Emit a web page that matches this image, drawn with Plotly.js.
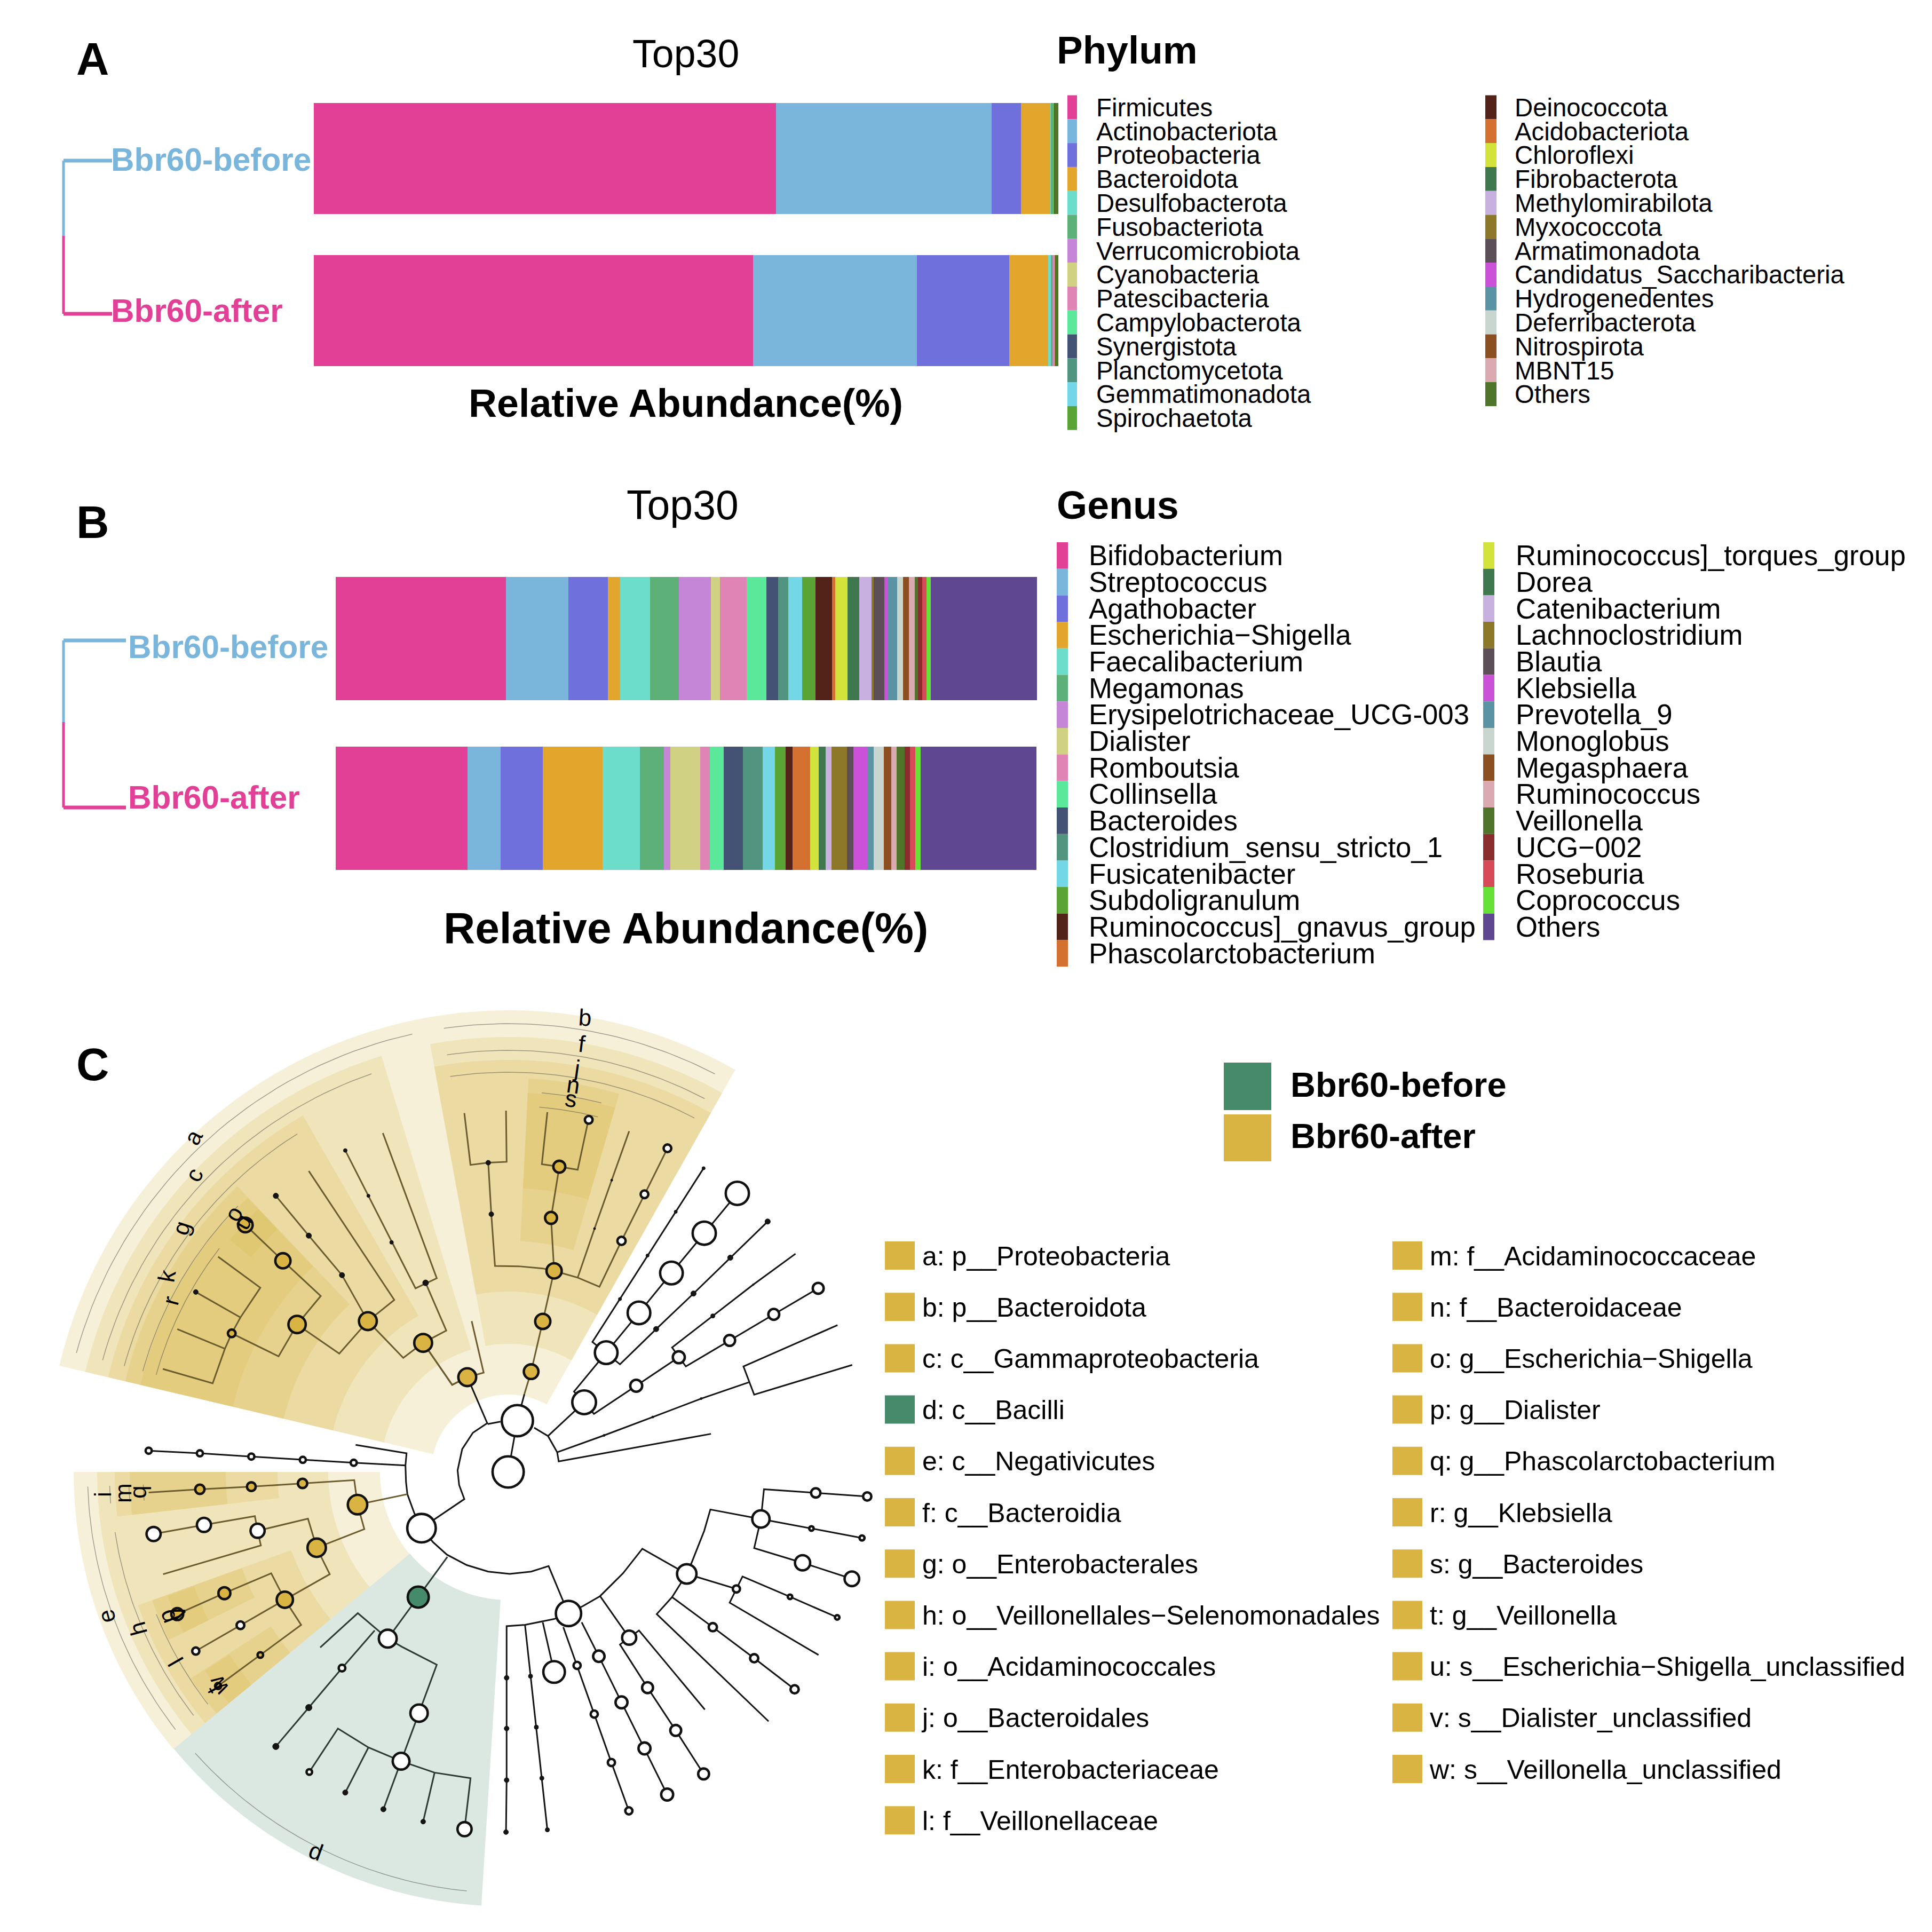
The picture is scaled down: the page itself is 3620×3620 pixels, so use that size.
<!DOCTYPE html>
<html><head><meta charset="utf-8">
<script src="https://cdn.plot.ly/plotly-3.0.1.min.js"></script>
<style>html,body{margin:0;padding:0;background:#fff}</style></head>
<body><div id="chart" style="width:3620px;height:3620px"></div>
<script>
// ---------- Data: stacked bars ----------
const samples = ['Bbr60-before', 'Bbr60-after'];
const phylumNames = ['Firmicutes','Actinobacteriota','Proteobacteria','Bacteroidota','Desulfobacterota','Fusobacteriota','Verrucomicrobiota','Cyanobacteria','Patescibacteria','Campylobacterota','Synergistota','Planctomycetota','Gemmatimonadota','Spirochaetota','Deinococcota','Acidobacteriota','Chloroflexi','Fibrobacterota','Methylomirabilota','Myxococcota','Armatimonadota','Candidatus_Saccharibacteria','Hydrogenedentes','Deferribacterota','Nitrospirota','MBNT15','Others'];
const phylumBefore = [62.08,28.96,3.94,3.94,0.07,0.30,0.03,0.01,0.01,0.02,0.01,0.01,0.01,0.01,0.01,0.01,0.01,0.01,0.01,0.01,0.01,0.01,0.01,0.01,0.01,0.01,0.50];
const phylumAfter  = [59.00,22.00,12.40,5.23,0.36,0.22,0.14,0.02,0.03,0.02,0.03,0.01,0.01,0.01,0.01,0.01,0.01,0.01,0.01,0.01,0.01,0.01,0.01,0.01,0.01,0.01,0.50];
const genusNames = ['Bifidobacterium','Streptococcus','Agathobacter','Escherichia\u2212Shigella','Faecalibacterium','Megamonas','Erysipelotrichaceae_UCG-003','Dialister','Romboutsia','Collinsella','Bacteroides','Clostridium_sensu_stricto_1','Fusicatenibacter','Subdoligranulum','Ruminococcus]_gnavus_group','Phascolarctobacterium','Ruminococcus]_torques_group','Dorea','Catenibacterium','Lachnoclostridium','Blautia','Klebsiella','Prevotella_9','Monoglobus','Megasphaera','Ruminococcus','Veillonella','UCG\u2212002','Roseburia','Coprococcus','Others'];
const genusBefore = [24.28,8.90,5.63,1.75,4.26,4.11,4.57,1.29,3.81,2.82,1.67,1.45,1.98,1.90,2.36,0.46,1.75,1.67,1.75,0.30,1.52,0.46,1.37,0.84,0.84,0.84,0.46,0.61,0.61,0.61,15.14];
const genusAfter  = [18.80,4.68,6.02,8.54,5.34,3.39,0.94,4.30,1.33,1.98,2.71,2.85,1.77,1.54,0.93,2.56,1.16,1.05,0.84,2.18,0.93,1.98,0.88,1.45,1.10,0.73,1.13,0.81,0.76,0.70,16.54];
const palette = ['#E24097','#7AB5DB','#7070DD','#E3A62D','#6CDDCA','#5DB077','#C686D8','#D1D183','#E084B5','#5BE89A','#445276','#519581','#73D7E8','#5AA435','#53231A','#D47030','#D4E33B','#3F774E','#C8B0E0','#8D7829','#5C4F57','#CB52D8','#5A93A3','#C9D6CF','#8B4F22','#DBAAB0','#4E7529','#8B2C2F','#D84A57','#66E236','#5F4792'];
const phylumColors = palette.slice(0,26).concat(['#4E7529']);
const blue = '#7AB5DB', pink = '#E24097';
const gold = '#D9B443', green = '#468B69', brown = '#6B5C2F', ink = '#151515', inkD = '#2C3A33';

// ---------- Data: cladogram legend ----------
const cladeLegendA = ['a: p__Proteobacteria','b: p__Bacteroidota','c: c__Gammaproteobacteria','d: c__Bacilli','e: c__Negativicutes','f: c__Bacteroidia','g: o__Enterobacterales','h: o__Veillonellales\u2212Selenomonadales','i: o__Acidaminococcales','j: o__Bacteroidales','k: f__Enterobacteriaceae','l: f__Veillonellaceae'];
const cladeLegendB = ['m: f__Acidaminococcaceae','n: f__Bacteroidaceae','o: g__Escherichia\u2212Shigella','p: g__Dialister','q: g__Phascolarctobacterium','r: g__Klebsiella','s: g__Bacteroides','t: g__Veillonella','u: s__Escherichia\u2212Shigella_unclassified','v: s__Dialister_unclassified','w: s__Veillonella_unclassified'];

// ---------- Data: clade sectors [angle from, angle to, inner radius, outer radius, group] ----------
const cx0 = 953, cy0 = 2758;
const sectors = [
 [100.2,166.7,145,865,'g'],[60.6,100.2,145,865,'g'],
 [107,166.7,240,815,'g'],[60.6,100.4,240,815,'g'],[180,219.6,241,815,'g'],[219.6,266.4,240,814,'d'],
 [120,166.7,338,771,'g'],[60.6,100.4,338,772,'g'],[186.5,219.6,338,771,'g'],[180,186.5,338,771,'g'],
 [133.5,166.7,433,738,'g'],[73.7,87.1,433,738,'g'],[180,186.5,433,738,'g'],[199.8,219.6,433,738,'g'],
 [140.2,166.7,531,709,'g'],[133.6,140.2,531,709,'g'],[73.7,87.1,532,711,'g'],[180,186.5,530,710,'g'],[199.8,206.3,531,710,'g'],[213,219.6,531,710,'g'],
 [133.6,140.2,628,680,'g'],[200,206.3,627,680,'g'],[213.2,219.6,625,680,'g']
];
// annotation arcs [angle from, angle to, radius]
const arcs = [[102.4,164.6,840],[109,164.6,789],[122,164.6,747],[135.5,164.6,711],[142.3,164.6,685],
 [62.6,98.3,840],[62.3,98.4,790],[62.3,98.4,749],[75.9,85,713],[75.9,85.2,686],
 [182,217.7,789],[188.7,217.7,746],[202,217.7,712],[182,184.5,748],[182,184.5,712],[182,184.5,685],[221.9,264.3,789]];
// clade letters [text, x, y, rotation]
const letters = [['a',361,2131,-62],['c',363,2201,-65],['g',339,2301,-72],['k',312,2391,-80],['r',319,2437,-75],['o',437,2274,-60],['u',454,2289,-60],
 ['b',1096,1906,4],['f',1090,1955,7],['j',1081,2001,8],['n',1074,2032,8],['s',1070,2058,8],
 ['i',192,2800,-90],['m',230,2798,-90],['q',258,2796,-90],['e',199,3029,-105],['h',258,3052,-105],['p',312,3030,-110],['v',332,3024,-110],['l',329,3114,-120],['t',401,3165,-120],['w',409,3159,-120],['d',592,3468,20]];

const views = {a:[100,1860,1.96,1.742], b:[800,1860,1.742,1.742], c:[100,2660,1.96,1.633], d:[800,2660,1.742,1.633]};
const branches = [
 ['a',brown,[1210,458,1408,932,1330,965,1072,515]],['a',brown,[1367,947,1443,1103,1358,1143,1285,1192,1155,1072]],
 ['a',brown,[1155,1072,1252,1003,938,582]],['a',brown,[1155,1072,1060,922,938,793,817,663]],['a',brown,[1155,1072,1050,1178,895,1083]],
 ['a',brown,[895,1083,982,990,843,875,705,758]],['a',brown,[895,1083,827,1187,655,1112]],
 ['a',brown,[605,862,760,963,687,1060,655,1112,630,1162,585,1275,402,1228]],['a',brown,[687,1060,523,977]],['a',brown,[630,1162,455,1098]],
 ['a',brown,[1358,1143,1465,1280,1520,1255]],
 ['b',brown,[146,1072,185,1240,132,1255]],['b',ink,[132,1255,198,1408]],
 ['b',ink,[295,1397,318,1310]],['b',brown,[318,1310,340,1237,378,1073,415,908,405,735,432,568]],
 ['b',brown,[122,393,142,562,200,555,260,552,258,385]],
 ['b',brown,[200,555,210,723,222,892,300,893,378,900,415,908,492,930,563,960,635,810,710,658,785,508]],
 ['b',brown,[492,930,547,770,603,612,660,452]],['b',brown,[393,390,375,560,432,568,492,578,527,415]],
 ['b',ink,[198,1408,240,1400]],['b',ink,[350,1420,395,1447,425,1500,430,1530,927,1440]],
 ['b',ink,[425,1500,578,1445,737,1385,895,1325,1050,1272]],['b',ink,[1340,1085,1033,1220,1068,1312,1388,1215]],
 ['b',ink,[395,1447,513,1337,480,1302,585,1175,692,1045,798,915,905,785,1013,655]],
 ['b',ink,[903,573,540,1140,630,1213,748,1098,870,982,990,865,1112,747]],
 ['b',ink,[513,1337,545,1375,683,1283,822,1190]],['b',ink,[1203,852,1065,953,933,1055,800,1158,845,1220,988,1135,1132,1050,1277,965]],
 ['b',brown,[132,1255,82,1280,-12,1143]],
 ['c',ink,[1352,332,1325,285,1300,228,1295,190,1293,140,1297,103,1110,77]],['c',ink,[350,95,538,103,727,113,916,123,1103,132,1293,140]],
 ['c',brown,[1300,228,1117,260,1105,185,915,195,727,205,538,213,350,223]],
 ['c',brown,[1117,260,1142,335,967,392,935,303,750,340,740,295,553,322,368,350]],['c',brown,[750,340,762,385,403,473]],
 ['c',brown,[967,392,1015,473,850,551,800,470,628,531,455,595]],['c',brown,[850,551,687,629,523,708]],['c',brown,[850,551,910,628,760,720,605,815]],
 ['c',inkD,[1447,420,1340,543,1228,670,1118,592,980,697]],['c',inkD,[1180,645,1060,760,938,881,817,1000]],
 ['c',inkD,[1228,670,1280,695,1408,750,1343,898,1277,1045]],['c',inkD,[1277,1045,1157,1003,1045,945,940,1078]],['c',inkD,[1157,1003,1072,1141]],
 ['c',inkD,[1277,1045,1212,1192]],['c',inkD,[1277,1045,1400,1080,1532,1097,1510,1253]],['c',inkD,[1400,1080,1358,1230]],
 ['d',ink,[-18,332,122,243,105,200,100,155,115,90,150,40,195,12]],
 ['d',ink,[-18,332,20,375,65,413,130,445,200,465,270,472,340,465,397,448,440,545,462,593]],
 ['d',ink,[295,3,265,160]],['d',ink,[462,593,415,610,320,628,260,632,260,790,260,945,260,1103,258,1262]],['d',ink,[320,628,338,785,357,941,375,1097,393,1255]],
 ['d',ink,[378,620,415,772]],['d',ink,[445,635,490,752,546,901,602,1049,659,1197]],['d',ink,[505,620,561,724,635,865,710,1006,784,1147]],
 ['d',ink,[462,593,510,570,565,540,640,470,703,395,848,472]],['d',ink,[565,540,660,667]],['d',ink,[907,887,692,645,630,688,720,820,812,951,903,1084]],
 ['d',ink,[848,472,865,435,905,340,925,275,1090,304,1255,333,1420,362]],['d',ink,[1090,304,1100,213,1269,224,1437,235]],['d',ink,[1090,304,1068,393,1226,438,1387,487]],
 ['d',ink,[848,472,1010,518,1030,480,1185,542,1339,605]],['d',ink,[1010,518,988,560,1278,720]],['d',ink,[848,472,800,543,750,595,1115,923]],['d',ink,[800,543,933,635,1068,730,1200,825]]
];
// nodes: [view, x, y, outer diameter]
const goldNodes = [['a',705,758,32],['a',843,875,33],['a',895,1083,37],['a',1155,1072,38],['a',1358,1143,38],['a',1520,1255,38],['a',655,1112,19],
 ['b',340,1237,32],['b',378,1073,33],['b',415,908,33],['b',405,735,27],['b',432,568,27],
 ['c',1117,260,41],['c',915,195,22],['c',727,205,21],['c',538,213,22],['c',967,392,39],['c',850,551,35],['c',628,531,27],['c',455,595,27],['c',760,720,15],['c',605,815,16]];
const greenNodes = [['c',1340,543,44]];
const whiteNodes = [['b',295,1397,63],['b',513,1337,49],['b',585,1175,47],['b',692,1045,47],['b',798,915,47],['b',905,785,48],['b',1013,655,48],
 ['b',683,1283,27],['b',822,1190,27],['b',988,1135,25],['b',1132,1050,25],['b',1277,965,25],['b',528,415,19],['b',785,508,19],['b',710,658,19],['b',635,810,20],
 ['c',350,95,16],['c',538,103,16],['c',727,113,16],['c',916,123,16],['c',1103,132,16],['c',368,350,31],['c',553,322,31],['c',750,340,31],['c',687,629,19],['c',523,708,18],
 ['c',1352,332,58],['c',1228,670,38],['c',1343,898,37],['c',1277,1045,36],['c',1060,760,17],['c',940,1078,15],['c',1510,1253,31],
 ['d',265,160,63],['d',462,593,52],['d',415,772,45],['d',490,752,18],['d',546,901,18],['d',602,1049,18],['d',659,1197,18],['d',561,724,26],['d',635,865,27],['d',710,1006,27],['d',784,1147,27],
 ['d',660,667,31],['d',720,820,25],['d',812,951,25],['d',903,1084,25],['d',848,472,41],['d',1090,304,37],['d',1269,224,22],['d',1437,235,20],['d',1226,438,33],['d',1387,487,32],
 ['d',1010,518,18],['d',933,635,20],['d',1068,730,20],['d',1200,825,20],['d',1185,542,13],['d',1255,333,13],['d',1339,605,13],['d',1420,362,14]];
const darkNodes = [['a',817,663,11],['a',938,793,11],['a',1060,922,11],['a',1072,515,8],['a',1157,663,7],['a',1242,815,8],['a',523,977,10],['a',1367,947,12],
 ['b',903,573,7],['b',812,715,7],['b',720,858,7],['b',630,1000,7],['b',1112,747,11],['b',990,865,11],['b',870,982,11],['b',748,1098,11],['b',933,1055,9],['b',1065,953,4],
 ['b',200,555,10],['b',210,723,10],['b',603,612,5],['b',547,770,5],['b',578,1445,5],['b',737,1385,5],['b',895,1325,5],
 ['c',938,881,13],['c',817,1000,13],['c',1072,1141,11],['c',1212,1192,11],['c',1358,1230,10],
 ['d',260,790,10],['d',260,945,10],['d',260,1103,10],['d',258,1262,10],['d',338,785,9],['d',357,941,9],['d',375,1097,9],['d',393,1255,9]];

// ---------- Build ----------
const S = 3620, FONT = 'Liberation Sans';
const vx = (v,X)=>{const f=views[v];return f[0]+X/f[2];};
const vy = (v,Y)=>{const f=views[v];return f[1]+Y/f[3];};
const data = [];

function addStack(names, before, after, colors, xa, ya, w){
  names.forEach((n,i)=>data.push({type:'bar',orientation:'h',name:n,y:samples,x:[before[i],after[i]],width:w,
    marker:{color:colors[i],line:{width:0}},xaxis:xa,yaxis:ya,showlegend:false,hoverinfo:'skip'}));
}
addStack(phylumNames, phylumBefore, phylumAfter, phylumColors, 'x','y',0.729);
addStack(genusNames, genusBefore, genusAfter, palette, 'x2','y2',0.725);

const over = {xaxis:'x3',yaxis:'y3',showlegend:false,hoverinfo:'skip',cliponaxis:false};
// sectors
function angXY(ang,r){const t=ang*Math.PI/180;return [cx0+r*Math.cos(t),cy0-r*Math.sin(t)];}
sectors.forEach(s=>{
  const xs=[],ys=[],N=40;
  for(let i=0;i<=N;i++){const p=angXY(s[0]+(s[1]-s[0])*i/N,s[3]);xs.push(p[0]);ys.push(p[1]);}
  for(let i=N;i>=0;i--){const p=angXY(s[0]+(s[1]-s[0])*i/N,s[2]);xs.push(p[0]);ys.push(p[1]);}
  data.push(Object.assign({type:'scatter',mode:'none',x:xs,y:ys,fill:'toself',
    fillcolor:s[4]==='d'?'rgba(70,139,105,0.2)':'rgba(217,180,67,0.2)'},over));
});
arcs.forEach(a=>{
  const xs=[],ys=[];for(let i=0;i<=40;i++){const p=angXY(a[0]+(a[1]-a[0])*i/40,a[2]);xs.push(p[0]);ys.push(p[1]);}
  data.push(Object.assign({type:'scatter',mode:'lines',x:xs,y:ys,line:{color:'rgba(90,90,80,0.55)',width:1.5}},over));
});
branches.forEach(b=>{
  const xs=[],ys=[];for(let i=0;i<b[2].length;i+=2){xs.push(vx(b[0],b[2][i]));ys.push(vy(b[0],b[2][i+1]));}
  data.push(Object.assign({type:'scatter',mode:'lines',x:xs,y:ys,line:{color:b[1],width:3}},over));
});
function addNodes(list,fill,lw,stroke){
  data.push(Object.assign({type:'scatter',mode:'markers',x:list.map(n=>vx(n[0],n[1])),y:list.map(n=>vy(n[0],n[2])),
    marker:{symbol:'circle',opacity:1,size:list.map(n=>Math.max(n[3]-lw,2)),color:fill,line:{color:stroke||'#111',width:lw}}},over));
}
addNodes(goldNodes,gold,4.6);addNodes(greenNodes,green,4.6);addNodes(whiteNodes,'#fff',4.6);addNodes(darkNodes,'#151515',1);

// text helpers
function textCol(x,ys,labels,size,color,bold){
  data.push(Object.assign({type:'scatter',mode:'text',x:ys.map(()=>x),y:ys,text:labels,textposition:'middle right',
    textfont:{family:FONT,size:size,color:color||'#000',weight:bold?'bold':'normal'}},over));
}
const shapes = [];
function rect(x0,y0,x1,y1,c){shapes.push({type:'rect',xref:'x3',yref:'y3',x0,y0,x1,y1,fillcolor:c,line:{width:0},layer:'below'});}
function line(x0,y0,x1,y1,c,w){shapes.push({type:'line',xref:'x3',yref:'y3',x0,y0,x1,y1,line:{color:c,width:w}});}

// phylum legend
const row = (n,y0,dy)=>Array.from({length:n},(_,i)=>y0+dy*i);
const phy1=phylumNames.slice(0,14), phy2=phylumNames.slice(14);
row(14,178.5,44.8).forEach((y,i)=>rect(2000,y,2018,y+44.8,phylumColors[i]));
row(13,178.5,44.8).forEach((y,i)=>rect(2783,y,2804,y+44.8,phylumColors[14+i]));
textCol(2054,row(14,206,44.8),phy1,47.3);
textCol(2838,row(13,206,44.8),phy2,47.3);
// genus legend
const gen1=genusNames.slice(0,16), gen2=genusNames.slice(16);
row(16,1016,49.7).forEach((y,i)=>rect(1980,y,2001,y+49.7,palette[i]));
row(15,1016,49.7).forEach((y,i)=>rect(2779,y,2800,y+49.7,palette[16+i]));
textCol(2040,row(16,1046,49.7),gen1,52.8);
textCol(2840,row(15,1046,49.7),gen2,52.8);
// clade legend
row(12,2326,96.2).forEach((y,i)=>rect(1658,y,1714,y+53,i===3?green:gold));
row(11,2326,96.2).forEach((y,i)=>rect(2609,y,2665,y+53,gold));
textCol(1728,row(12,2358,96.2),cladeLegendA,50);
textCol(2679,row(11,2358,96.2),cladeLegendB,50);
rect(2293,1991,2382,2080,green);rect(2293,2088,2382,2176,gold);
textCol(2418,[2039,2135],['Bbr60-before','Bbr60-after'],65,'#000',true);
// dendrograms
function dendro(x,yT,yM,yB,xR,w){
  line(x,yT,x,yM,blue,w);line(x,yT,xR,yT,blue,w+2);line(x,yM,x,yB,pink,w);line(x,yB,xR,yB,pink,w+2);
}
dendro(119,301,442,588,210,5);
dendro(119,1200,1353,1513,236,5);
textCol(208,[305],['Bbr60-before'],60.3,blue,true);
textCol(208,[588],['Bbr60-after'],60.3,pink,true);
textCol(240,[1218],['Bbr60-before'],60.3,blue,true);
textCol(240,[1500],['Bbr60-after'],60.3,pink,true);

// free text
const ann = [];
function label(t,x,y,size,bold,rot,anchor){ann.push({text:t,x,y,xref:'x3',yref:'y3',showarrow:false,xanchor:anchor||'center',yanchor:'middle',textangle:rot||0,
  font:{family:FONT,size,color:'#000',weight:bold?'bold':'normal'}});}
label('A',173,110,85,true);label('B',173,978,85,true);label('C',173,1994,85,true);
label('Top30',1285,100,73.5);label('Top30',1279,946,77);
label('Relative Abundance(%)',1285,755,73.5,true);label('Relative Abundance(%)',1285,1738,82,true);
label('Phylum',1978,93,73,true,0,'left');label('Genus',1978,946,73.5,true,0,'left');
letters.forEach(l=>label(l[0],l[1],l[2],44,false,l[3]));

const hidden={visible:false,fixedrange:true};
const layout={width:S,height:S,margin:{l:0,r:0,t:0,b:0},paper_bgcolor:'#fff',plot_bgcolor:'rgba(0,0,0,0)',barmode:'stack',showlegend:false,
  xaxis:Object.assign({domain:[588/S,1983/S],range:[0,100],anchor:'y'},hidden),
  yaxis:Object.assign({domain:[1-725/S,1-154/S],type:'category',categoryorder:'array',categoryarray:['Bbr60-after','Bbr60-before'],range:[-0.5,1.5],anchor:'x'},hidden),
  xaxis2:Object.assign({domain:[629/S,1943/S],range:[0,100],anchor:'y2'},hidden),
  yaxis2:Object.assign({domain:[1-1674/S,1-1037/S],type:'category',categoryorder:'array',categoryarray:['Bbr60-after','Bbr60-before'],range:[-0.5,1.5],anchor:'x2'},hidden),
  xaxis3:Object.assign({domain:[0,1],range:[0,S],anchor:'y3'},hidden),
  yaxis3:Object.assign({domain:[0,1],range:[S,0],anchor:'x3'},hidden),
  shapes,annotations:ann};
Plotly.newPlot('chart',data,layout,{displayModeBar:false,staticPlot:true});
</script></body></html>
